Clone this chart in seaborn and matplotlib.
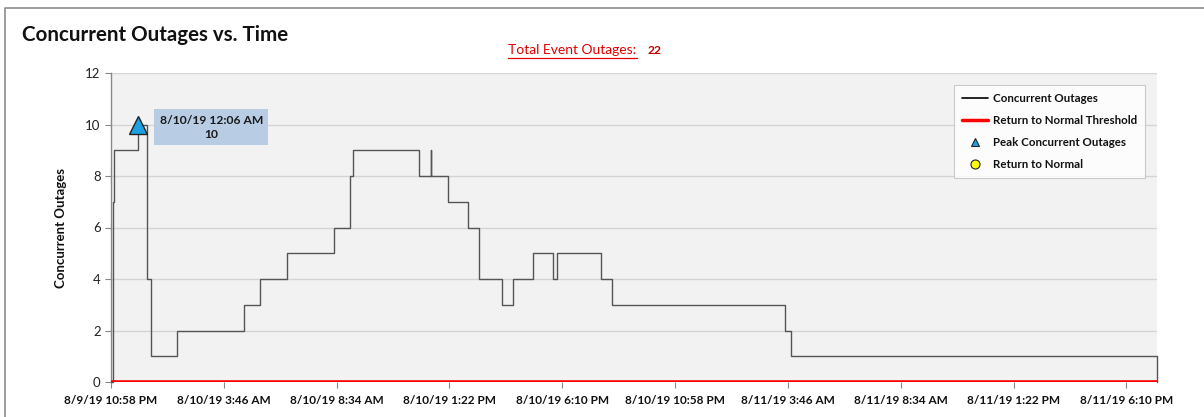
import matplotlib
matplotlib.use("Agg")
import matplotlib.pyplot as plt
import matplotlib.dates as mdates
from matplotlib.lines import Line2D
import pandas as pd
import seaborn as sns

# Concurrent outage count after each change (step series)
event_times = [
    "2019-08-09 22:58", "2019-08-09 23:04", "2019-08-09 23:06", "2019-08-10 00:06",
    "2019-08-10 00:31", "2019-08-10 00:41", "2019-08-10 01:47", "2019-08-10 04:37",
    "2019-08-10 05:18", "2019-08-10 06:26", "2019-08-10 08:28", "2019-08-10 09:07",
    "2019-08-10 09:09", "2019-08-10 09:15", "2019-08-10 12:03", "2019-08-10 12:34",
    "2019-08-10 12:36", "2019-08-10 13:17", "2019-08-10 14:08", "2019-08-10 14:38",
    "2019-08-10 15:35", "2019-08-10 16:03", "2019-08-10 16:55", "2019-08-10 17:45",
    "2019-08-10 17:56", "2019-08-10 19:48", "2019-08-10 20:16", "2019-08-11 03:38",
    "2019-08-11 03:53", "2019-08-11 19:28",
]
outage_counts = [0, 7, 9, 10, 4, 1, 2, 3, 4, 5, 6, 7, 8, 9, 8, 9, 8, 7, 6, 4,
                 3, 4, 5, 4, 5, 4, 3, 2, 1, 0]

peak_time = "2019-08-10 00:06"
peak_value = 10
peak_label = "8/10/19 12:06 AM"
threshold_value = 0
total_event_outages = 22

tick_times = [
    "2019-08-09 22:58", "2019-08-10 03:46", "2019-08-10 08:34", "2019-08-10 13:22",
    "2019-08-10 18:10", "2019-08-10 22:58", "2019-08-11 03:46", "2019-08-11 08:34",
    "2019-08-11 13:22", "2019-08-11 18:10",
]
tick_labels = [
    "8/9/19 10:58 PM", "8/10/19 3:46 AM", "8/10/19 8:34 AM", "8/10/19 1:22 PM",
    "8/10/19 6:10 PM", "8/10/19 10:58 PM", "8/11/19 3:46 AM", "8/11/19 8:34 AM",
    "8/11/19 1:22 PM", "8/11/19 6:10 PM",
]

df = pd.DataFrame({"time": pd.to_datetime(event_times), "count": outage_counts})

sns.set_style("white")
plt.rcParams["font.family"] = ["Lato", "DejaVu Sans"]

fig = plt.figure(figsize=(12.04, 4.17), dpi=100)
ax = fig.add_axes([111 / 1204, 1 - 382 / 417, (1157 - 111) / 1204, (382 - 73) / 417])
ax.set_facecolor("#f2f2f2")

x_min = df["time"].iloc[0]
x_max = df["time"].iloc[-1]

# Horizontal gridlines
ax.yaxis.grid(True, color="#d4d4d4", linewidth=1.0)
ax.xaxis.grid(False)
ax.set_axisbelow(True)

# Step line of concurrent outages
sns.lineplot(data=df, x="time", y="count", ax=ax, estimator=None, sort=False,
             drawstyle="steps-post", color="#555555", linewidth=1.0, zorder=3)
ax.lines[-1].set_clip_on(False)

# Return-to-normal threshold
ax.axhline(threshold_value, color="#ff0000", linewidth=2.6, zorder=4)

# Peak marker and its label
ax.plot([pd.Timestamp(peak_time)], [peak_value], marker="^", markersize=13,
        markerfacecolor="#1ba1e2", markeredgecolor="#222222", markeredgewidth=1.0,
        linestyle="none", zorder=5)
ax.annotate(f"{peak_label}\n{peak_value}", xy=(mdates.date2num(pd.Timestamp(peak_time)), peak_value),
            xytext=(53, -2), textcoords="offset points", ha="center", va="center",
            fontsize=8.7, fontweight="bold", color="#1a1a1a", linespacing=1.35,
            bbox=dict(boxstyle="square,pad=0.45", facecolor="#b8cce4", edgecolor="none"),
            zorder=6)

ax.set_xlim(x_min, x_max)
ax.set_ylim(0, 12)
ax.set_yticks(range(0, 13, 2))
ax.set_xticks(pd.to_datetime(tick_times))
ax.set_xticklabels(tick_labels, fontsize=8.5, fontweight="bold", color="#111111")
ax.tick_params(axis="y", labelsize=9.5, colors="#222222", length=4, width=0.8,
               direction="out", left=True, color="#888888")
ax.tick_params(axis="x", length=4, width=0.8, direction="out", bottom=True,
               color="#888888", pad=5)
for lbl in ax.get_yticklabels():
    lbl.set_color("#222222")

ax.set_xlabel("")
ax.set_ylabel("Concurrent Outages", fontsize=9.5, fontweight="bold", color="#111111", labelpad=13)

for side in ["top", "right", "bottom"]:
    ax.spines[side].set_visible(False)
ax.spines["left"].set_color("#888888")
ax.spines["left"].set_linewidth(1.0)

# Legend
handles = [
    Line2D([0], [0], color="black", linewidth=1.2),
    Line2D([0], [0], color="#ff0000", linewidth=2.5),
    Line2D([0], [0], marker="^", linestyle="none", markersize=6,
           markerfacecolor="#1ba1e2", markeredgecolor="#222222", markeredgewidth=0.8),
    Line2D([0], [0], marker="o", linestyle="none", markersize=6.5,
           markerfacecolor="#ffff00", markeredgecolor="#222222", markeredgewidth=0.8),
]
labels = ["Concurrent Outages", "Return to Normal Threshold",
          "Peak Concurrent Outages", "Return to Normal"]
leg = ax.legend(handles, labels, loc="upper right", bbox_to_anchor=(0.9885, 0.962),
                frameon=True, fancybox=False, fontsize=8.3, handlelength=2.3,
                handletextpad=0.4, labelspacing=0.95, borderpad=0.7, borderaxespad=0)
leg.get_frame().set_edgecolor("#bfbfbf")
leg.get_frame().set_facecolor("white")
leg.get_frame().set_linewidth(0.8)
for t in leg.get_texts():
    t.set_fontweight("bold")
    t.set_color("#111111")

# Title and total outages
fig.text(22 / 1204, 1 - 35 / 417, "Concurrent Outages vs. Time", fontsize=14.8,
         fontweight="bold", color="#111111", ha="left", va="center")
fig.text(508 / 1204, 1 - 50 / 417, "Total Event Outages:", fontsize=10, color="#e00000",
         ha="left", va="center")
fig.add_artist(Line2D([508 / 1204, 637 / 1204], [1 - 57.5 / 417, 1 - 57.5 / 417],
                      color="#e00000", linewidth=0.9))
fig.text(648 / 1204, 1 - 50 / 417, str(total_event_outages), fontsize=8.7,
         fontweight="bold", color="#c00000", ha="left", va="center")

# Outer chart frame
fig.add_artist(Line2D([5 / 1204, 5 / 1204, 1.0], [0.0, 1 - 8 / 417, 1 - 8 / 417],
                      color="#8c8c8c", linewidth=1.2))

fig.savefig("out.png", dpi=100)
